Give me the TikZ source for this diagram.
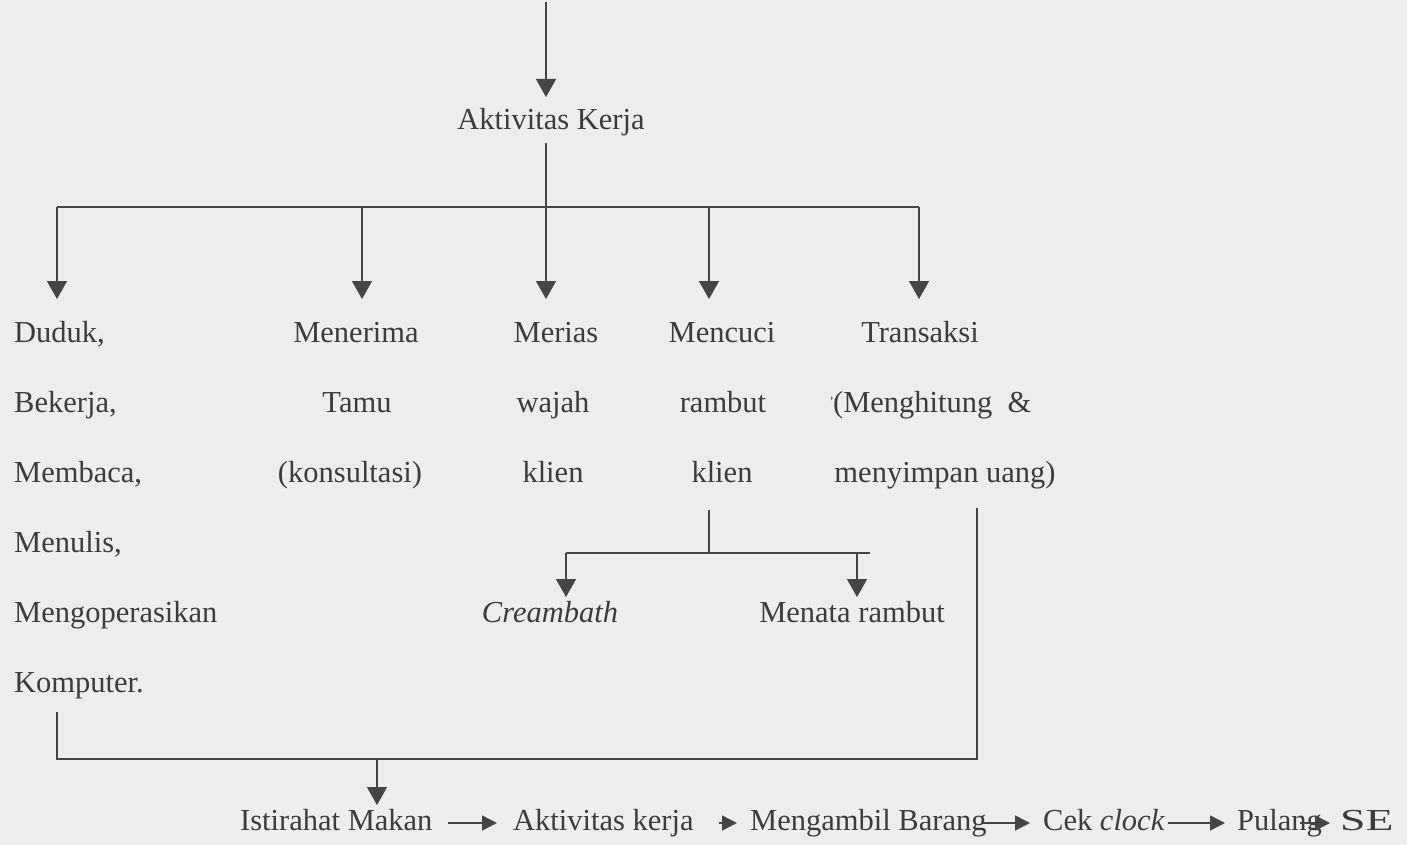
\documentclass[tikz,border=0pt]{standalone}
\usepackage{fontspec}
\setmainfont{Liberation Serif}
\usetikzlibrary{arrows.meta}
\definecolor{paper}{HTML}{EDEDEB}
\definecolor{ink}{HTML}{3C3C3C}
\definecolor{wirec}{HTML}{454545}
\begin{document}
\begin{tikzpicture}[x=1pt,y=-1pt,
  txt/.style={inner sep=0pt, anchor=base, text=ink, font=\fontsize{30.5}{36}\selectfont},
  ltxt/.style={txt, anchor=base west},
  wire/.style={draw=wirec, line width=1.5pt},
  arr/.style={wire, -{Triangle[length=18pt,width=20pt]}},
  sarr/.style={wire, -{Triangle[length=15pt,width=15pt]}}]
\fill[paper] (0,0) rectangle (1407,845);

% ---- header
\coordinate (top) at (546,2);
\coordinate (akin) at (546,97);
\node[txt] (ak) at (551,130) {Aktivitas Kerja};
\draw[arr] (top) -- (akin);

% ---- first level
\coordinate (akout) at (546,143);
\coordinate (bar) at (546,207);
\coordinate (barL) at (57,207);
\coordinate (barB) at (362,207);
\coordinate (barD) at (709,207);
\coordinate (barR) at (919,207);
\coordinate (tipRow) at (0,299);
\draw[wire] (akout) -- (bar);
\draw[wire] (barL) -- (barR);
\foreach \c in {barL,barB,bar,barD,barR}
  \draw[arr] (\c) -- (\c |- tipRow);

% left column
\node[ltxt] (d1) at (14,342) {Duduk,};
\node[ltxt] (d2) at (14,412) {Bekerja,};
\node[ltxt] (d3) at (14,482) {Membaca,};
\node[ltxt] (d4) at (14,552) {Menulis,};
\node[ltxt] (d5) at (14,622) {Mengoperasikan};
\node[ltxt] (d6) at (14,692) {Komputer.};

% second column
\node[txt] (t1) at (356,342) {Menerima};
\node[txt] (t2) at (357,412) {Tamu};
\node[txt] (t3) at (350,482) {(konsultasi)};

% third column
\node[txt] (w1) at (556,342) {Merias};
\node[txt] (w2) at (553,412) {wajah};
\node[txt] (w3) at (553,482) {klien};

% fourth column
\node[txt] (r1) at (722,342) {Mencuci};
\node[txt] (r2) at (723,412) {rambut};
\node[txt] (r3) at (722,482) {klien};

% fifth column
\node[txt] (u1) at (920,342) {Transaksi};
\node[txt] (u2) at (931,412) {{\fontsize{14}{14}\selectfont\raisebox{6pt}{\textquotesingle}}(Menghitung\ \ \&};
\node[txt] (u3) at (945,482) {menyimpan uang)};

% ---- hair washing branch
\coordinate (m0) at (709,510);
\coordinate (sub) at (709,553);
\coordinate (subL) at (566,553);
\coordinate (subA) at (857,553);
\coordinate (subR) at (870,553);
\coordinate (tipRow2) at (0,597);
\draw[wire] (m0) -- (sub);
\draw[wire] (subL) -- (subR);
\draw[arr] (subL) -- (subL |- tipRow2);
\draw[arr] (subA) -- (subA |- tipRow2);
\node[txt] (cb) at (550,622) {\itshape Creambath};
\node[txt] (mr) at (852,622) {Menata rambut};

% ---- merge towards the break
\coordinate (jR) at (977,508);
\coordinate (jRb) at (977,759);
\coordinate (jL) at (57,712);
\coordinate (jLb) at (57,759);
\coordinate (jM) at (377,759);
\coordinate (jMtip) at (377,805);
\draw[wire] (jL) -- (jLb) -- (jRb) -- (jR);
\draw[arr] (jM) -- (jMtip);

% ---- closing sequence
\node[ltxt] (b1) at (240,830) {Istirahat Makan};
\node[ltxt] (b2) at (513,830) {Aktivitas kerja};
\node[ltxt] (b3) at (750,830) {Mengambil Barang};
\node[ltxt] (b4) at (1043,830) {Cek \textit{clock}};
\node[ltxt] (b5) at (1237,830) {Pulang};
\node[ltxt] (b6) at (1340,830) {\scalebox{1.5}[1]{SE}};

\draw[sarr] ([xshift=15pt,yshift=7pt]b1.base east) -- ([xshift=-16pt,yshift=7pt]b2.base west);
\draw[sarr] ([xshift=25pt,yshift=7pt]b2.base east) -- ([xshift=-13pt,yshift=7pt]b3.base west);
\draw[sarr] ([xshift=-4pt,yshift=7pt]b3.base east) -- ([xshift=-13pt,yshift=7pt]b4.base west);
\draw[sarr] ([xshift=3pt,yshift=7pt]b4.base east) -- ([xshift=-12pt,yshift=7pt]b5.base west);
\draw[sarr] ([xshift=-22pt,yshift=7pt]b5.base east) -- ([xshift=-10pt,yshift=7pt]b6.base west);
\end{tikzpicture}
\end{document}
